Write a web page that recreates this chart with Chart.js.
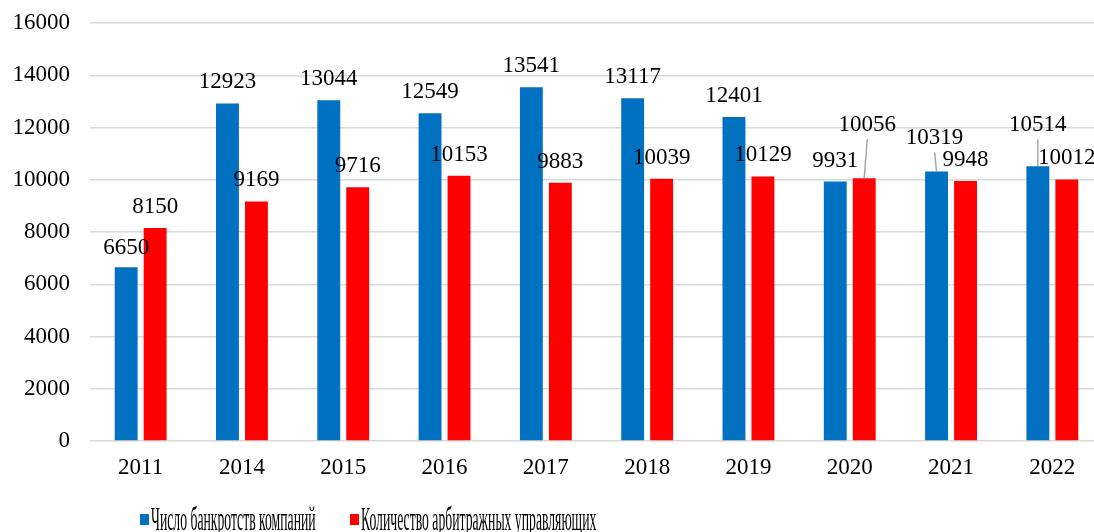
<!DOCTYPE html>
<html>
<head>
<meta charset="utf-8">
<script src="https://cdn.jsdelivr.net/npm/chart.js@4"></script>
<style>
    html, body { margin: 0; padding: 0; overflow: hidden; background: #fff; }
    #wrap { width: 1104px; height: 545px; }
</style>
</head>
<body>
<div id="wrap"><canvas id="chart"></canvas></div>
<script>
// Данные
const years = ['2011', '2014', '2015', '2016', '2017', '2018', '2019', '2020', '2021', '2022'];
const bankruptcies = [6650, 12923, 13044, 12549, 13541, 13117, 12401, 9931, 10319, 10514];
const managers = [8150, 9169, 9716, 10153, 9883, 10039, 10129, 10056, 9948, 10012];
const seriesNames = ['Число банкротств компаний', 'Количество арбитражных управляющих'];
const yTicks = [0, 2000, 4000, 6000, 8000, 10000, 12000, 14000, 16000];

const FONT = '"Liberation Serif", "Times New Roman", serif';

// Смещения подписей (подъём над столбцом, сдвиг по x, выноска)
const labelLayout = [
    { rise: { 0: 21, 8: 35, 9: 43 }, dx: { 8: -2 }, leader: [8, 9] },
    { rise: { 7: 55 }, dx: { 7: 3 }, leader: [7] }
];

// Подписи значений над столбцами
const valueLabels = {
    id: 'valueLabels',
    afterDatasetsDraw(chart) {
        const ctx = chart.ctx;
        ctx.save();
        ctx.font = '23px ' + FONT;
        ctx.fillStyle = '#000';
        ctx.textAlign = 'center';
        ctx.textBaseline = 'alphabetic';
        chart.data.datasets.forEach((ds, di) => {
            const meta = chart.getDatasetMeta(di);
            const lay = labelLayout[di];
            meta.data.forEach((bar, i) => {
                const rise = lay.rise[i] !== undefined ? lay.rise[i] : 23;
                const dx = lay.dx[i] || 0;
                const cy = bar.y - rise;
                if (lay.leader.includes(i)) {
                    ctx.strokeStyle = '#a6a6a6';
                    ctx.lineWidth = 1.5;
                    ctx.beginPath();
                    ctx.moveTo(bar.x, bar.y);
                    ctx.lineTo(bar.x + dx, cy + 16);
                    ctx.stroke();
                }
                ctx.fillText(String(ds.data[i]), bar.x + dx, cy + 8);
            });
        });
        ctx.restore();
    }
};

// Легенда внизу (узкий шрифт)
const bottomLegend = {
    id: 'bottomLegend',
    afterDraw(chart) {
        const ctx = chart.ctx;
        const items = [
            { x: 140, color: '#0070C0', text: seriesNames[0] },
            { x: 350, color: '#FF0000', text: seriesNames[1] }
        ];
        ctx.save();
        ctx.font = '33px ' + FONT;
        ctx.textBaseline = 'alphabetic';
        items.forEach(it => {
            ctx.fillStyle = it.color;
            ctx.fillRect(it.x, 514, 9, 11);
            ctx.fillStyle = '#000';
            ctx.save();
            ctx.translate(it.x + 11, 530);
            ctx.scale(0.415, 1);
            ctx.fillText(it.text, 0, 0);
            ctx.restore();
        });
        ctx.restore();
    }
};

const ctx = document.getElementById('chart').getContext('2d');
const chart = new Chart(ctx, {
    type: 'bar',
    data: {
        labels: years,
        datasets: [{
            label: seriesNames[0],
            data: bankruptcies,
            backgroundColor: '#0070C0',
            categoryPercentage: 0.572,
            barPercentage: 0.79
        }, {
            label: seriesNames[1],
            data: managers,
            backgroundColor: '#FF0000',
            categoryPercentage: 0.572,
            barPercentage: 0.79
        }]
    },
    options: {
        responsive: true,
        maintainAspectRatio: false,
        animation: false,
        layout: { padding: { top: 23, right: 1, left: 0, bottom: 0 } },
        plugins: {
            legend: { display: false },
            tooltip: { enabled: false }
        },
        scales: {
            x: {
                grid: { display: false, drawTicks: false },
                border: { display: false },
                ticks: { color: '#000', font: { family: FONT, size: 23 }, padding: 13 },
                afterFit: s => { s.height = 104; }
            },
            y: {
                min: 0,
                max: 16000,
                afterBuildTicks: s => { s.ticks = yTicks.map(v => ({ value: v })); },
                grid: { color: '#d9d9d9', lineWidth: 1.5, drawTicks: false },
                border: { display: false },
                ticks: {
                    color: '#000',
                    font: { family: FONT, size: 23 },
                    padding: 20,
                    callback: v => String(v)
                },
                afterFit: s => { s.width = 90; s.paddingTop = 0; s.paddingBottom = 0; }
            }
        }
    },
    plugins: [valueLabels, bottomLegend]
});
</script>
</body>
</html>
